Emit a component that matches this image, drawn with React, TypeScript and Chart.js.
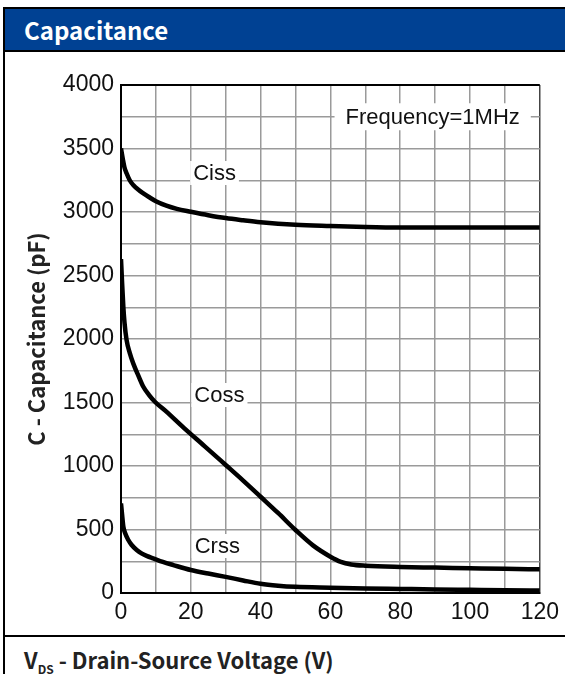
import React, { useEffect, useRef } from "react";
import { Chart, registerables } from "chart.js";

Chart.register(...registerables);

const cissV = [0, 0.5, 1, 1.6, 2.5, 3.5, 5, 6.4, 8, 10, 13, 16, 20, 25, 30, 35, 40, 50, 60, 70, 80, 90, 100, 110, 120];
const cissC = [3500, 3420, 3350, 3305, 3250, 3213, 3175, 3147, 3118, 3085, 3050, 3025, 3002, 2975, 2952, 2935, 2920, 2900, 2890, 2882, 2878, 2878, 2878, 2878, 2878];

const cossV = [0, 0.3, 0.67, 1, 1.6, 2.5, 3.5, 5, 6.4, 8, 9.7, 13, 18, 24, 30, 35, 40, 45, 50, 55, 60, 63, 66, 70, 80, 90, 100, 110, 120];
const cossC = [2630, 2450, 2254, 2130, 1992, 1890, 1808, 1710, 1624, 1560, 1506, 1428, 1300, 1155, 1008, 885, 758, 630, 496, 375, 286, 245, 225, 215, 205, 200, 195, 190, 187];

const crssV = [0, 0.3, 0.67, 1.2, 2.1, 3, 4.5, 6, 7.5, 9.2, 12, 15, 20, 25, 30, 35, 40, 45, 50, 60, 70, 80, 90, 100, 110, 120];
const crssC = [706, 620, 522, 470, 417, 380, 339, 310, 290, 273, 245, 220, 181, 153, 127, 99, 73, 58, 49, 42, 36, 32, 28, 25, 22, 20];

const xTicks = [0, 20, 40, 60, 80, 100, 120];
const yTicks = [0, 500, 1000, 1500, 2000, 2500, 3000, 3500, 4000];

const curveNames = ["Ciss", "Coss", "Crss"];
const curveLabelV = [26.8, 28.2, 27.6];
const curveLabelC = [3307, 1559, 370];

const noteText = "Frequency=1MHz";
const noteV = 89.3;
const noteC = 3750;

const toPts = (xs: number[], ys: number[]) => xs.map((x, i) => ({ x, y: ys[i] }));

const labelPlugin = {
  id: "curveLabels",
  beforeDatasetsDraw(chart: any) {
    const { ctx, scales } = chart;
    const xs = scales.x;
    const ys = scales.y;
    ctx.save();
    ctx.font = "22px 'Liberation Sans', Arial, sans-serif";
    ctx.textAlign = "center";
    ctx.textBaseline = "middle";
    const drawLabel = (text: string, v: number, c: number, padX: number, h: number) => {
      const px = xs.getPixelForValue(v);
      const py = ys.getPixelForValue(c);
      const w = ctx.measureText(text).width;
      ctx.fillStyle = "#fff";
      ctx.fillRect(px - w / 2 - padX, py - h / 2, w + padX * 2, h);
      ctx.fillStyle = "#111";
      ctx.fillText(text, px, py + 1);
    };
    curveNames.forEach((n, i) => drawLabel(n, curveLabelV[i], curveLabelC[i], 3, 24));
    drawLabel(noteText, noteV, noteC, 11, 27);
    ctx.restore();
  },
};

export default function App() {
  const ref = useRef<HTMLCanvasElement | null>(null);
  useEffect(() => {
    if (!ref.current) return;
    const tickFont = { family: "'Liberation Sans', Arial, sans-serif", size: 23 };
    const line = (data: any) => ({
      data,
      borderColor: "#000",
      borderWidth: 4.5,
      pointRadius: 0,
      fill: false,
      tension: 0.4,
      cubicInterpolationMode: "monotone" as const,
    });
    const chart = new Chart(ref.current, {
      type: "line",
      data: {
        datasets: [
          line(toPts(cissV, cissC)),
          line(toPts(cossV, cossC)),
          line(toPts(crssV, crssC)),
        ],
      },
      options: {
        animation: false,
        responsive: false,
        layout: { padding: { left: 0, right: 23, top: 33, bottom: 0 } },
        plugins: { legend: { display: false }, tooltip: { enabled: false } },
        scales: {
          x: {
            type: "linear",
            min: 0,
            max: 120,
            afterFit: (s: any) => {
              s.height = 43;
            },
            ticks: {
              stepSize: 10,
              autoSkip: false,
              maxRotation: 0,
              padding: 6,
              color: "#111",
              font: tickFont,
              callback: (v: any) => (xTicks.includes(Number(v)) ? String(v) : ""),
            },
            grid: {
              drawTicks: false,
              color: (c: any) => (c.tick && c.tick.value === 120 ? "#444" : "#9a9a9a"),
              lineWidth: 1.5,
            },
            border: { display: true, color: "#000", width: 2 },
          },
          y: {
            type: "linear",
            min: 0,
            max: 4000,
            afterFit: (s: any) => {
              s.width = 116;
            },
            ticks: {
              stepSize: 250,
              autoSkip: false,
              padding: 7,
              color: "#111",
              font: tickFont,
              callback: (v: any) => (yTicks.includes(Number(v)) ? String(v) : ""),
            },
            grid: {
              drawTicks: false,
              color: (c: any) => (c.tick && c.tick.value === 4000 ? "#000" : "#9a9a9a"),
              lineWidth: (c: any) => (c.tick && c.tick.value === 4000 ? 2 : 1.5),
            },
            border: { display: true, color: "#000", width: 2 },
            title: {
              display: true,
              text: "C - Capacitance (pF)",
              color: "#222",
              font: { family: "'Noto Sans CJK SC', 'Noto Sans', sans-serif", size: 22, weight: "bold" },
              padding: { top: 18, bottom: 0 },
            },
          },
        },
      },
      plugins: [labelPlugin],
    });
    return () => chart.destroy();
  }, []);

  const hFont = "'Noto Sans CJK SC', 'Noto Sans', sans-serif";
  return (
    <div style={{ position: "fixed", left: 0, top: 0, width: 565, height: 674, overflow: "hidden", background: "#fff" }}>
      <div
        style={{
          position: "absolute",
          left: 3,
          top: 7,
          width: 600,
          height: 700,
          borderLeft: "2px solid #000",
          borderTop: "2px solid #000",
        }}
      />
      <div
        style={{
          position: "absolute",
          left: 5,
          top: 9,
          width: 560,
          height: 41,
          background: "#004193",
          borderBottom: "2px solid #000",
        }}
      />
      <div
        style={{
          position: "absolute",
          left: 24,
          top: 9,
          height: 41,
          lineHeight: "41px",
          color: "#fff",
          fontFamily: hFont,
          fontWeight: "bold",
          fontSize: 24,
        }}
      >
        Capacitance
      </div>
      <canvas
        ref={ref}
        width={560}
        height={584}
        style={{ position: "absolute", left: 5, top: 52, width: 560, height: 584 }}
      />
      <div style={{ position: "absolute", left: 5, top: 635, width: 560, height: 2, background: "#000" }} />
      <div
        style={{
          position: "absolute",
          left: 24,
          top: 645,
          lineHeight: "28px",
          color: "#222",
          fontFamily: hFont,
          fontWeight: "bold",
          fontSize: 22,
          whiteSpace: "nowrap",
        }}
      >
        V<sub style={{ fontSize: 12, verticalAlign: "-5px", lineHeight: 0 }}>DS</sub> - Drain-Source Voltage (V)
      </div>
    </div>
  );
}
